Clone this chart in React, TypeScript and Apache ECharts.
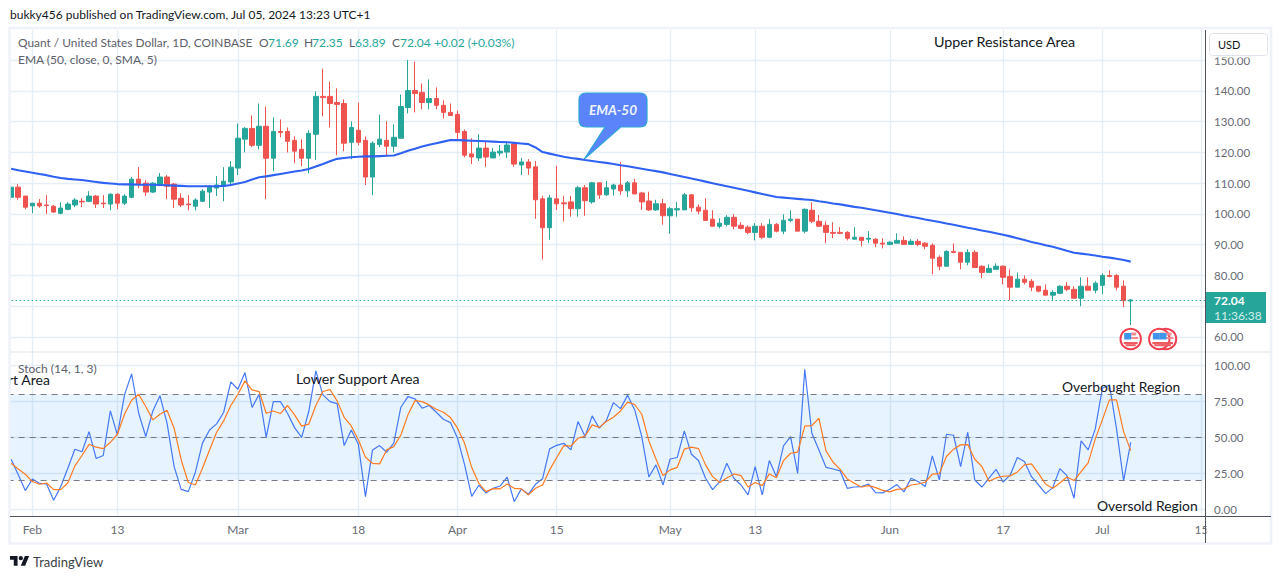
import React, { useEffect, useRef } from "react";
import * as echarts from "echarts";

const opens = [
  105.4,108.7,105.8,102.6,103.5,102.9,102.5,100.2,101.5,102.9,
  104.1,104.1,105.8,103.5,103.2,106.4,103.5,105.4,111.3,110,
  107.1,109.7,112,109.7,105.1,103.2,102.5,104.1,107.1,108.4,
  109,110.4,114.9,124.3,127.8,122.3,128.5,118.1,126.8,126.8,
  123.9,121,118.1,125.9,138.2,138.2,136.2,135.9,123.3,127.2,
  123.9,112,122.6,123.9,122,124.6,134.6,140.1,139.5,136.2,
  137.5,135.3,133,132.3,126.8,119.5,118.2,121.4,118.2,119.8,
  120.1,122.7,115.9,116.9,115.3,104.9,95.5,104.9,103.6,103.9,
  101.7,108.5,103.9,110.1,106.2,108.1,109.4,107.5,110.1,106.8,
  104.2,101.3,103.3,99.4,101.3,101.3,106.2,102.2,101.2,98.3,
  96,96.6,98.9,96.3,95.7,94,96,92.4,96.6,94.4,
  97.9,98.3,94.4,101.2,97.6,96.3,94,94,94,91.8,
  92.4,91.8,91.8,90.5,90.1,90.5,91.4,90.1,91.1,90.5,
  89.8,85.9,83,87.8,87.5,84.3,87.5,83,81,82,
  83,79.7,76.2,78.8,78.1,76.5,75.2,73.6,74.2,76.5,
  75.5,72.6,76.5,75.2,76.8,80,80,76.5,71.69,
];
const closes = [
  108.7,105.4,102.2,103.5,102.6,102.7,100.6,101.9,103.2,104.5,
  103.9,105.8,103.2,103.3,106.4,103.5,105.8,111.3,109.7,107.1,
  110,112,109,104.8,102.9,103,104.5,107.4,108.7,109.4,
  110.6,115.2,124.6,127.8,122.3,128.5,118.1,126.8,126.5,123.6,
  120.4,118.1,126.2,138.2,137.8,135.9,135.6,123,128.1,123.3,
  112,123,124.3,122,124.9,134.9,140.1,139.1,136.2,137.5,
  135.3,133,132,126.5,119.1,118.5,121.4,118.5,120.1,120.4,
  122.4,116.2,116.9,114.9,104.6,95.5,105.2,103.3,103.3,101.7,
  108.5,104.3,110.1,106.2,108.5,109.4,107.5,110.1,106.5,103.9,
  101.3,103.3,99.4,101.7,101.7,106.2,102,100.9,97.9,96,
  97,98.9,96,95.3,94,96,92.4,96.6,94.4,97.9,
  98.3,94.4,101.5,97.6,96,94,93.7,93.7,92.1,92.4,
  91.4,92.1,90.5,90.2,90.8,91.4,90.1,91.1,90.1,89.5,
  85.6,83,87.8,87.5,84.3,87.5,82.6,81,82.3,83,
  79.4,76.2,78.8,77.8,76.2,74.9,73.6,74.5,76.5,75.5,
  72.6,76.5,75.2,77.5,80,79.7,76.2,71.8,72.04,
];
const highs = [
  109,109.7,105.8,103.5,104.8,106.1,102.9,103.8,103.8,105.1,
  105.1,107.4,106.1,106.1,106.7,106.7,106.4,112,115.2,111,
  110.3,113.3,112.6,110,106.7,106.1,105.1,108,109.4,112.3,
  115.2,117.2,129.4,128.2,132,135.9,134.9,131.4,130.7,128.1,
  125.2,124.3,127.2,139.8,147.2,143,140.8,137.2,130.1,136.2,
  125.2,123.6,132.3,130.1,129.1,138.8,150,149.5,142.4,143.7,
  141.1,136.9,135.9,133.6,127.5,124.6,125.9,123.7,121.4,122.4,
  123.7,123.3,118.2,117.8,117.2,105.9,106.2,115.6,105.9,105.9,
  109.1,109.4,110.4,110.1,110.7,109.8,116.9,110.7,111.4,107.2,
  107.2,104.6,104.9,102.3,103.9,106.8,106.5,103.1,105.1,101.2,
  98.6,99.6,99.9,97.3,96.3,97,97,98.3,97,99.9,
  101.2,98.3,101.8,103.8,99.6,97.6,97.3,95.7,94.4,95.7,
  92.4,94.4,92.1,92.1,91.1,93.7,92.7,91.8,91.8,90.8,
  90.4,86.5,88.2,90.4,87.5,88.5,88.2,83.3,83.6,83.9,
  83.3,82,81,80,78.8,76.5,77.1,75.2,76.8,77.8,
  76.5,79.4,79.4,78.1,80.7,81.7,80.4,78.4,72.35,
];
const lows = [
  104.5,104.6,101.5,100.2,102,100,100.4,99.9,101.2,102.2,
  102.2,103.8,101.9,101.9,101.2,101.5,102.9,105.1,108.4,105.8,
  106.8,109,104.8,101.9,102.2,101.2,101.2,103.8,101.9,105.8,
  104.1,109,112.6,120,121.7,121,104.8,113.9,124.9,120,
  116.5,115.5,113.2,117.5,131.7,128.1,119.1,120.4,117.8,122.3,
  109.4,106.1,121.7,118.7,120,124.6,132.7,133,134,134,
  134,131,132,124,118.4,116.2,117.2,115.3,118.2,118.8,
  118.2,115.3,112.7,112.7,98.4,85.2,91.6,101.3,97.5,99.1,
  99.1,99.4,103.3,104.9,105.9,105.9,106.2,105.5,106.5,101.3,
  101,101,96.5,93.6,99.1,101.3,100.7,99.9,97.9,96,
  95.3,96,95,95,93.4,91.4,91.8,92.1,94,93.4,
  97.3,94.4,93.7,97,95.7,90.5,92.1,93.4,91.4,91.8,
  89.5,90.5,89.2,88.8,89.8,90.5,90.1,90.1,89.5,88.5,
  80.4,81.7,83,87.2,82,83.3,82.6,79.1,81,82,
  77.1,71.9,76.2,77.1,74.9,74.5,73.6,71.9,73.9,74.9,
  72.6,70,75.2,74.2,73.9,79.4,75.2,69.7,63.89,
];
const ema50 = [
  114.7,114.2,113.8,113.4,113,112.6,112.1,111.7,111.4,111.2,
  111,110.7,110.4,110.1,109.9,109.7,109.6,109.6,109.5,109.5,
  109.5,109.4,109.3,109.2,109.1,109,109,109,109,109,
  109.1,109.4,109.9,110.4,111.2,111.9,112.2,112.6,113,113.4,
  113.8,114.1,114.6,115.4,116.2,117.1,117.9,118.2,118.4,118.6,
  118.7,118.7,118.8,118.9,119,119.7,120.5,121.2,121.9,122.5,
  123,123.5,124,124,123.9,123.8,123.7,123.6,123.5,123.4,
  123.3,123.1,122.9,122.7,121.6,120.1,119.6,119.1,118.6,118.2,
  117.9,117.5,117.2,116.9,116.6,116.2,115.8,115.5,115.1,114.7,
  114.3,113.9,113.5,113,112.5,112,111.5,111,110.5,110,
  109.5,109,108.5,108,107.5,107,106.5,106,105.5,105.3,
  105.1,104.9,104.7,104.5,104.1,103.8,103.4,103.1,102.7,102.3,
  102,101.6,101.2,100.8,100.4,100,99.5,99.1,98.7,98.2,
  97.8,97.4,96.9,96.5,96,95.5,95.1,94.6,94.2,93.7,
  93.2,92.7,92.1,91.5,90.9,90.4,89.8,89.3,88.7,88,
  87.4,87.1,86.8,86.5,86.1,85.8,85.4,85,84.5,
];
const stochK = [
  34.8,24,13,21,18,17.6,6.3,15.8,28.5,41.8,
  40,54,35.3,37.4,68.4,51.7,79.6,94.2,66.8,50.6,
  68.4,79,59.9,29.7,13.9,12.3,25.8,46,55.2,59.4,
  67.5,88.6,83.5,95.1,70.8,80,50,74.9,74.9,66.8,
  56.8,50,68,96.3,79.6,74.9,73.5,44.3,55.2,45.2,
  8.8,41.3,44.3,39.7,46,71,78.4,76.8,70.3,72.2,
  67.5,62.6,60.3,49.4,30.9,9,16.7,11.4,14.6,16.2,
  22.3,5.3,14.2,10.4,17.4,21.3,42,44.5,45.9,41.3,
  61,50.6,65,56.4,61.7,74.2,70,79.4,69.1,50.6,
  22.5,30.9,16.9,35,36,54.5,38.3,33.9,21.6,13.7,
  19.3,32,21.6,16.9,10,29.7,10,33.9,22.7,44.1,
  50.6,25,97.4,52.9,41.3,29.2,28,26.7,14.6,15.5,
  15.8,17.6,11.6,11.4,13.9,17.2,12.1,21.6,19.3,15.8,
  37.1,20.4,52.2,51.5,29.7,53.6,20.4,15.5,21.6,27.8,
  19,23.9,36,33.2,22.7,16.9,10.9,15.1,28.3,23.4,
  7.7,47.6,41.3,55.9,84.2,86.5,55.9,19.7,46.6,
];
const stochD = [
  32,28,24.4,19.3,17.4,18.3,13.7,13.7,18.3,30.2,
  37.4,45.2,43.2,42.2,46.6,52.2,66.1,75.9,80,71.5,
  62.2,66.1,68.9,56.4,34.3,18.6,16.9,28.5,41.3,53.6,
  61.5,72.2,80,89.3,83,81.9,66.8,68.4,66.6,72.2,
  65.7,57.8,59.2,72.2,81.9,83.3,75.4,64,58,48.3,
  36.2,32,31.6,41.3,43.6,51.7,65.7,75.6,74.9,72.6,
  69.6,67.5,63.8,56.4,45.9,29,18.1,12.3,14.4,14.2,
  17.6,14.6,14.2,10,14.6,16.9,27.4,36,44.3,43.9,
  49.4,51,58.7,57,61,64,68.4,74.5,72.9,66.1,
  47.6,35,23.4,27.4,29.2,41.8,43.2,42.2,30.9,22.7,
  18.6,21.8,24.6,23.4,15.5,18.6,16.5,24.6,22,33.9,
  39,39.7,57.8,58.2,63.3,40.6,32.7,27.8,21.1,18.1,
  15.5,16.5,15.1,13.2,12.1,13.9,14.2,16.9,17.6,18.8,
  24.4,24.8,36.7,41.8,44.8,45,34.8,29.7,19.5,21.8,
  23,23.2,26,30.9,31.6,24.8,17.4,14.6,18.3,22.5,
  20,26.2,32.3,49,62.2,76.1,76.1,54,40.8,
];
const priceGrid = [60, 70, 80, 90, 100, 110, 120, 130, 140, 150];
const priceTicks = [60, 80, 90, 100, 110, 120, 130, 140, 150];
const stochTicks = [0, 25, 50, 75, 100];
const stochLevels = [80, 50, 20];
const timeLabels: Record<string, string> = {
  "2024-02-01": "Feb", "2024-02-13": "13", "2024-03-01": "Mar", "2024-03-18": "18",
  "2024-04-01": "Apr", "2024-04-15": "15", "2024-05-01": "May", "2024-05-13": "13",
  "2024-06-01": "Jun", "2024-06-17": "17", "2024-07-01": "Jul", "2024-07-15": "15",
};
const categories: string[] = [];
for (let i = 0; i < 169; i++) {
  categories.push(new Date(Date.UTC(2024, 0, 29 + i)).toISOString().slice(0, 10));
}
const lastClose = 72.04;

const FONT = "Lato";
const GRID = "#e6eef5";
const UP = "#26a69a";
const DOWN = "#ef5350";
const LEGEND = "#5d606b";
const INK = "#131722";

echarts.graphic.registerShape("callout", echarts.graphic.extendPath(
  "M586 93H640Q647 93 647 100V120Q647 127 640 127H620.7L584.3 159L605 127H586Q579 127 579 120V100Q579 93 586 93Z", {}));
echarts.graphic.registerShape("tvlogo", echarts.graphic.extendPath(
  "M14 25H7V14H0V7h14v18zM28 25h-8l7.5-18h8L28 25zM24 11a4 4 0 1 1-8 0a4 4 0 0 1 8 0z", {}));

function text(t: string, x: number, y: number, fill: string, size: number, extra: any = {}, z = 100) {
  return {
    type: "text", z, silent: true,
    style: { text: t, x, y, fill, fontSize: size, fontFamily: FONT, verticalAlign: "middle", ...extra },
  };
}

function flag(cx: number, cy: number) {
  return {
    type: "group", x: cx, y: cy, z: 90, silent: true,
    children: [
      { type: "circle", z: 90, shape: { cx: 0, cy: 0, r: 10.2 }, style: { fill: "#fff", stroke: "#ef3f4e", lineWidth: 2 } },
      { type: "rect", z: 91, shape: { x: 0.5, y: -6.5, width: 5, height: 3 }, style: { fill: "#f58a90" } },
      { type: "rect", z: 91, shape: { x: 0.5, y: -2, width: 7, height: 2 }, style: { fill: "#f58a90" } },
      { type: "rect", z: 91, shape: { x: -7, y: 3, width: 14, height: 2.2 }, style: { fill: "#ef5b63" } },
      { type: "rect", z: 91, shape: { x: -5, y: 5.2, width: 10, height: 2 }, style: { fill: "#ef5b63" } },
      { type: "rect", z: 92, shape: { x: -6.5, y: -6, width: 7, height: 6.5 }, style: { fill: "#3f93e8" } },
    ],
  };
}

export default function App() {
  const ref = useRef<HTMLDivElement>(null);
  useEffect(() => {
    document.body.style.margin = "0";
    const chart = echarts.init(ref.current!, null, { renderer: "svg" });
    const candles = opens.map((o, i) => [o, closes[i], lows[i], highs[i]]);
    const showDate = (_: number, v: string) => v in timeLabels;
    const xBase = {
      type: "category", data: categories, boundaryGap: true,
      axisLine: { show: false }, axisTick: { show: false },
      splitLine: { show: true, interval: showDate, alignWithLabel: true, lineStyle: { color: GRID, width: 1.4 } },
    };
    const yBase = {
      type: "value", position: "right", scale: true,
      axisLine: { show: false }, axisTick: { show: false },
      splitLine: { show: true, lineStyle: { color: GRID, width: 1.4 } },
    };
    const labelStyle = { color: "#696c75", fontSize: 11.5, fontFamily: FONT, margin: 9, padding: [0, 0, 2, 0] };
    chart.setOption({
      animation: false,
      backgroundColor: "#fff",
      grid: [
        { left: 7.6, top: 30, width: 1197.5, height: 322 },
        { left: 7.6, top: 352, width: 1197.5, height: 164.3 },
      ],
      xAxis: [
        { ...xBase, gridIndex: 0, axisLabel: { show: false } },
        {
          ...xBase, gridIndex: 1,
          axisLabel: {
            show: true, interval: showDate, hideOverlap: false,
            formatter: (v: string) => timeLabels[v] ?? "", color: "#696c75", fontSize: 12, fontFamily: FONT, margin: 7,
          },
        },
      ],
      yAxis: [
        {
          ...yBase, gridIndex: 0, min: 55.12, max: 159.78,
          axisTick: { show: false, customValues: priceGrid },
          axisLabel: { ...labelStyle, customValues: priceTicks, formatter: (v: number) => v.toFixed(2) },
        },
        {
          ...yBase, gridIndex: 1, min: -4.87, max: 109.4,
          axisTick: { show: false, customValues: stochTicks },
          axisLabel: { ...labelStyle, customValues: stochTicks, formatter: (v: number) => v.toFixed(2) },
        },
      ],
      series: [
        {
          type: "candlestick", xAxisIndex: 0, yAxisIndex: 0, data: candles, barWidth: 5,
          itemStyle: { color: UP, color0: DOWN, borderColor: UP, borderColor0: DOWN, borderWidth: 1 },
          markLine: {
            silent: true, symbol: "none", label: { show: false },
            lineStyle: { color: UP, type: [1.5, 2.5], width: 1.2 },
            data: [{ yAxis: lastClose }],
          },
        },
        {
          type: "line", name: "EMA-50", xAxisIndex: 0, yAxisIndex: 0, data: ema50, showSymbol: false,
          lineStyle: { color: "#2f62f2", width: 2.1 }, z: 4,
        },
        {
          type: "line", name: "%K", xAxisIndex: 1, yAxisIndex: 1, data: stochK, showSymbol: false,
          lineStyle: { color: "#4579f5", width: 1.2 }, z: 4,
          markArea: {
            silent: true, itemStyle: { color: "rgba(33,150,243,0.11)" },
            data: [[{ yAxis: 20 }, { yAxis: 80 }]],
          },
          markLine: {
            silent: true, symbol: "none", label: { show: false },
            lineStyle: { color: "#787b86", type: [6, 5], width: 1.2 },
            data: stochLevels.map((v) => ({ yAxis: v })),
          },
        },
        {
          type: "line", name: "%D", xAxisIndex: 1, yAxisIndex: 1, data: stochD, showSymbol: false,
          lineStyle: { color: "#ff7b22", width: 1.2 }, z: 5,
        },
      ],
      graphic: [
        { type: "rect", z: 80, silent: true, shape: { x: 0, y: 0, width: 9, height: 579 }, style: { fill: "#fff" } },
        { type: "rect", z: 80, silent: true, shape: { x: 1206.5, y: 517, width: 64, height: 26 }, style: { fill: "#fff" } },
        { type: "rect", z: 80, silent: true, shape: { x: 1206.5, y: 50, width: 64, height: 7.5 }, style: { fill: "#fff" } },
        { type: "rect", z: 81, silent: true, shape: { x: 9.5, y: 28, width: 1261.5, height: 515.5 }, style: { fill: "none", stroke: "#eff2f9", lineWidth: 2.5 } },
        { type: "line", z: 82, silent: true, shape: { x1: 10, y1: 352, x2: 1271, y2: 352 }, style: { stroke: "#e0e3eb", lineWidth: 1 } },
        { type: "line", z: 82, silent: true, shape: { x1: 10, y1: 516.5, x2: 1271, y2: 516.5 }, style: { stroke: "#50535e", lineWidth: 1 } },
        { type: "line", z: 82, silent: true, shape: { x1: 1205.5, y1: 30, x2: 1205.5, y2: 543 }, style: { stroke: "#50535e", lineWidth: 1 } },
        { type: "rect", z: 85, silent: true, shape: { x: 1209.5, y: 33.5, width: 58, height: 22, r: 3 }, style: { fill: "#fff", stroke: "#e0e3eb" } },
        text("USD", 1218, 44.5, INK, 11),
        text("bukky456 published on TradingView.com, Jul 05, 2024 13:23 UTC+1", 10, 14, INK, 12),
        text("Quant / United States Dollar, 1D, COINBASE", 18, 42, LEGEND, 11.9),
        text("O", 259, 42, LEGEND, 12), text("71.69", 268, 42, UP, 12),
        text("H", 304, 42, LEGEND, 12), text("72.35", 312, 42, UP, 12),
        text("L", 349, 42, LEGEND, 12), text("63.89", 355, 42, UP, 12),
        text("C", 392, 42, LEGEND, 12), text("72.04", 400, 42, UP, 12),
        text("+0.02 (+0.03%)", 434, 42, UP, 12),
        text("EMA (50, close, 0, SMA, 5)", 18, 59, LEGEND, 12),
        text("Stoch (14, 1, 3)", 18, 368, LEGEND, 12),
        text("Upper Resistance Area", 934, 41, INK, 14.3),
        text("rt Area", 8, 379, INK, 14, {}, 75),
        text("Lower Support Area", 296, 378, INK, 14.2),
        text("Overbought Region", 1062, 386, INK, 13.8),
        text("Oversold Region", 1097, 505, INK, 13.9),
        { type: "callout", z: 88, silent: true, style: { fill: "#5b84fb", stroke: "#2ea6d6", lineWidth: 1.2 } },
        text("EMA-50", 589, 110, "#eef3ff", 13.5, { fontWeight: "bold", fontStyle: "italic" }),
        { type: "rect", z: 95, silent: true, shape: { x: 1206, y: 292, width: 60, height: 31 }, style: { fill: UP } },
        text("72.04", 1214, 300.5, "#fff", 12, { fontWeight: "bold" }),
        text("11:36:38", 1214, 315, "#d2efeb", 12),
        flag(1166, 339), flag(1159.3, 339), flag(1130.7, 339),
        { type: "tvlogo", z: 100, silent: true, x: 10, y: 552.2, scaleX: 0.54, scaleY: 0.54, style: { fill: INK } },
        text("TradingView", 33, 562, "#3d3f47", 13),
      ],
    });
    return () => chart.dispose();
  }, []);
  return <div ref={ref} style={{ position: "absolute", left: 0, top: 0, width: 1281, height: 579 }} />;
}
